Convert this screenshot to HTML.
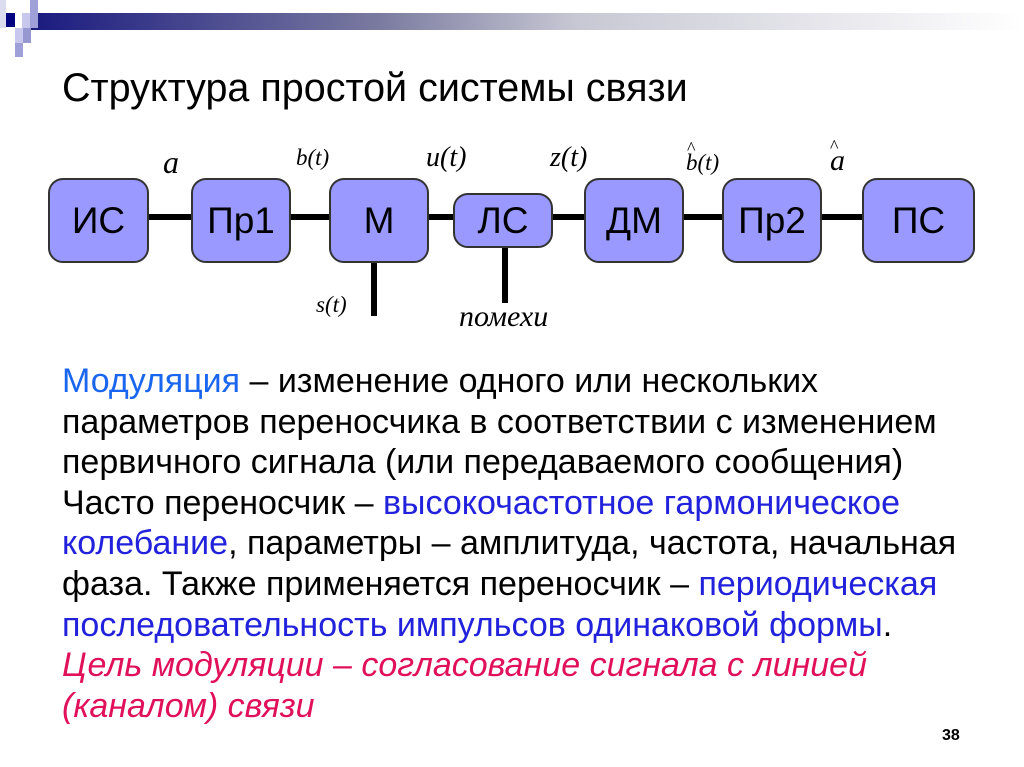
<!DOCTYPE html>
<html><head><meta charset="utf-8"><style>
body{margin:0;width:1024px;height:767px;background:#fff;position:relative;overflow:hidden;font-family:"Liberation Sans",sans-serif;}
.a{position:absolute}
.box{position:absolute;background:#9999ff;border:2px solid #333;border-radius:15px;box-sizing:border-box;display:flex;align-items:center;justify-content:center;font-size:37px;color:#000;}
.ln{position:absolute;background:#000;}
.m{position:absolute;font-family:"Liberation Serif",serif;font-style:italic;font-size:26px;}
.txt{position:absolute;left:62px;top:361px;font-size:34px;line-height:40.6px;white-space:nowrap;color:#000}
.b1{color:#1a66ee}.b2{color:#2222dd}.r{color:#e0105a;font-style:italic}
</style></head><body>
<div class="a" style="left:30px;top:13px;width:994px;height:17px;background:linear-gradient(90deg,#1a1a80,#7a7aa0 35%,#c8c8d4 55%,#fff)"></div>
<div class="a" style="left:6px;top:13px;width:9px;height:14px;background:#000080"></div>
<div class="a" style="left:0;top:0;width:6px;height:28px;background:#dcdcf0"></div>
<div class="a" style="left:22px;top:13px;width:8px;height:16px;background:#c8c8ee"></div>
<div class="a" style="left:30px;top:0;width:8px;height:28px;background:#a0a0d8"></div>
<div class="a" style="left:15px;top:28px;width:8px;height:15px;background:#c8c8ee"></div>
<div class="a" style="left:23px;top:28px;width:8px;height:15px;background:#9898d0"></div>
<div class="a" style="left:15px;top:43px;width:8px;height:14px;background:#a0a0d8"></div>
<div class="a" style="left:62px;top:66px;font-size:39.5px">Структура простой системы связи</div>

<div class="ln" style="left:146px;top:214px;width:48px;height:6px"></div>
<div class="ln" style="left:288px;top:214px;width:44px;height:6px"></div>
<div class="ln" style="left:426px;top:214px;width:30px;height:6px"></div>
<div class="ln" style="left:550px;top:214px;width:37px;height:6px"></div>
<div class="ln" style="left:681px;top:214px;width:44px;height:6px"></div>
<div class="ln" style="left:819px;top:214px;width:46px;height:6px"></div>
<div class="ln" style="left:371px;top:258px;width:6px;height:58px"></div>
<div class="ln" style="left:502px;top:245px;width:6px;height:58px"></div>

<div class="box" style="left:48px;top:178px;width:101px;height:85px">ИС</div>
<div class="box" style="left:191px;top:178px;width:100px;height:85px">Пр1</div>
<div class="box" style="left:329px;top:178px;width:100px;height:85px">М</div>
<div class="box" style="left:453px;top:193px;width:100px;height:55px">ЛС</div>
<div class="box" style="left:584px;top:178px;width:100px;height:85px">ДМ</div>
<div class="box" style="left:722px;top:178px;width:100px;height:85px">Пр2</div>
<div class="box" style="left:862px;top:178px;width:113px;height:85px">ПС</div>

<div class="m" style="left:163px;top:144px;font-size:32px">a</div>
<div class="m" style="left:296px;top:145px;font-size:23px">b(t)</div>
<div class="m" style="left:426px;top:142px;font-size:28px">u(t)</div>
<div class="m" style="left:550px;top:142px;font-size:28px">z(t)</div>
<div class="m" style="left:686px;top:150px;font-size:23px">b(t)</div>
<div class="m" style="left:687px;top:138px;font-size:18px;font-style:normal">^</div>
<div class="m" style="left:830px;top:144px;font-size:30px">a</div>
<div class="m" style="left:830px;top:136px;font-size:18px;font-style:normal">^</div>
<div class="m" style="left:316px;top:292px;font-size:23px">s(t)</div>
<div class="m" style="left:459px;top:300px;font-size:30px">помехи</div>

<div class="txt"><span class="b1">Модуляция</span> – изменение одного или нескольких<br>параметров переносчика в соответствии с изменением<br>первичного сигнала (или передаваемого сообщения)<br>Часто переносчик – <span class="b2">высокочастотное гармоническое<br>колебание</span>, параметры – амплитуда, частота, начальная<br>фаза. Также применяется переносчик – <span class="b2">периодическая<br>последовательность импульсов одинаковой формы</span>.<br><span class="r">Цель модуляции – согласование сигнала с линией<br>(каналом) связи</span></div>
<div class="a" style="left:942px;top:727px;font-size:16px;font-weight:bold">38</div>
</body></html>
